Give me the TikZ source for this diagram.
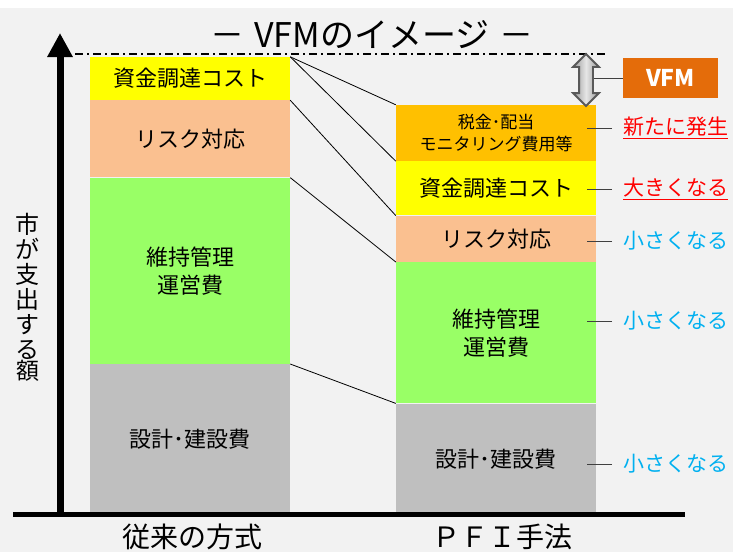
\documentclass[tikz,border=0pt]{standalone}
\usepackage{fontspec}
\setmainfont{Noto Sans CJK JP}
\usetikzlibrary{shapes.arrows, arrows.meta, positioning}

\definecolor{bgc}{HTML}{F2F2F2}
\definecolor{fundc}{HTML}{FFFF00}
\definecolor{riskc}{HTML}{FAC090}
\definecolor{maintc}{HTML}{99FF66}
\definecolor{buildc}{HTML}{BFBFBF}
\definecolor{taxc}{HTML}{FFC000}
\definecolor{vfmc}{HTML}{E46C0A}
\definecolor{upc}{HTML}{FF0000}
\definecolor{downc}{HTML}{00B0F0}

\begin{document}
\begin{tikzpicture}[
    x=1pt, y=-1pt,
    seg/.style={rectangle, minimum width=200pt, inner sep=0pt, text centered, align=center, font=\fontsize{22}{28}\selectfont},
    note/.style={anchor=west, inner sep=0pt, font=\fontsize{21}{24}\selectfont},
    tick/.style={line width=1pt, draw=black!75},
    link/.style={line width=0.8pt},
    vfmarrow/.style={double arrow, shape border rotate=90, minimum height=52pt, double arrow head extend=6pt, inner sep=0pt, draw=gray!70!black, line width=1.8pt, left color=gray!80, right color=gray!80, middle color=gray!20},
    caption/.style={font=\fontsize{28}{30}\selectfont}
]
\useasboundingbox (0,0) rectangle (738,552);

% Background
\fill[bgc] (0,8) rectangle (733,552);

% Title
\node[caption, font=\fontsize{34}{36}\selectfont] (title) at (372,35) {－\hspace{0.3em}VFMのイメージ\hspace{0.3em}－};

% Conventional method
\node[seg, fill=fundc, minimum height=43pt] (l-fund) at (190,78.5) {資金調達コスト};
\node[seg, fill=riskc, minimum height=77pt, below=0pt of l-fund] (l-risk) {リスク対応};
\node[seg, fill=maintc, minimum height=186pt, below=0pt of l-risk] (l-maint) {維持管理\\運営費};
\node[seg, fill=buildc, minimum height=150pt, below=0pt of l-maint] (l-build) {設計･建設費};

% PFI method
\node[seg, fill=taxc, minimum height=56pt, font=\fontsize{17}{22}\selectfont] (r-tax) at (496,133) {税金･配当\\モニタリング費用等};
\node[seg, fill=fundc, minimum height=54pt, below=0pt of r-tax] (r-fund) {資金調達コスト};
\node[seg, fill=riskc, minimum height=46pt, below=0pt of r-fund] (r-risk) {リスク対応};
\node[seg, fill=maintc, minimum height=141pt, below=0pt of r-risk] (r-maint) {維持管理\\運営費};
\node[seg, fill=buildc, minimum height=111pt, below=0pt of r-maint] (r-build) {設計･建設費};

% Links between the two bars
\draw[link] (l-fund.north east) -- (r-tax.north west);
\draw[link] (l-fund.north east) -- (r-fund.north west);
\draw[link] (l-risk.north east) -- (r-risk.north west);
\draw[link] (l-maint.north east) -- (r-maint.north west);
\draw[link] (l-build.north east) -- (r-build.north west);

% Top level line
\coordinate (top-l) at (75,54);
\coordinate (top-r) at (605,54);
\draw[line width=1.5pt, dash pattern=on 8pt off 4pt on 2pt off 4pt] (top-l) -- (top-r);

% VFM
\node[fill=vfmc, minimum width=95pt, minimum height=40pt, inner sep=0pt, text=white, font=\fontsize{23}{26}\selectfont\bfseries] (vfm-box) at (670.5,78) {VFM};
\draw[tick] (vfm-box.west) -- ++(-30,0);
\node[vfmarrow] (vfm-arrow) at (586,80) {\hspace*{12pt}\rule{0pt}{12pt}};

% Changes
\node[note, text=upc] (new) at (623,128) {\underline{新たに発生}};
\node[note, text=upc] (bigger) at (623,189) {\underline{大きくなる}};
\node[note, text=downc] (small-risk) at (623,241) {小さくなる};
\node[note, text=downc] (small-maint) at (623,321) {小さくなる};
\node[note, text=downc] (small-build) at (623,464) {小さくなる};
\draw[tick] ([xshift=-11pt]new.west) -- ++(-25,0);
\draw[tick] ([xshift=-11pt]bigger.west) -- ++(-25,0);
\draw[tick] ([xshift=-11pt]small-risk.west) -- ++(-25,0);
\draw[tick] ([xshift=-11pt]small-maint.west) -- ++(-25,0);
\draw[tick] ([xshift=-11pt]small-build.west) -- ++(-25,0);

% Axes
\coordinate (origin) at (60,516);
\coordinate (y-top) at (60,33);
\coordinate (x-left) at (13,514.5);
\coordinate (x-right) at (685,514.5);
\draw[line width=5pt] (x-left) -- (x-right);
\draw[line width=7pt, -{Triangle[width=24pt,length=24pt]}] (origin) -- (y-top);

% Axis labels
\node[align=center, inner sep=0pt, font=\fontsize{24}{25}\selectfont] (y-label) at (28,286) {市\\が\\支\\出\\す\\る};
\node[below=1pt of y-label, inner sep=0pt, font=\fontsize{23}{23}\selectfont] (y-label-end) {額};
\node[caption] (x-conv) at (192,537) {従来の方式};
\node[caption] (x-pfi) at (502,537) {ＰＦＩ手法};

\end{tikzpicture}
\end{document}
